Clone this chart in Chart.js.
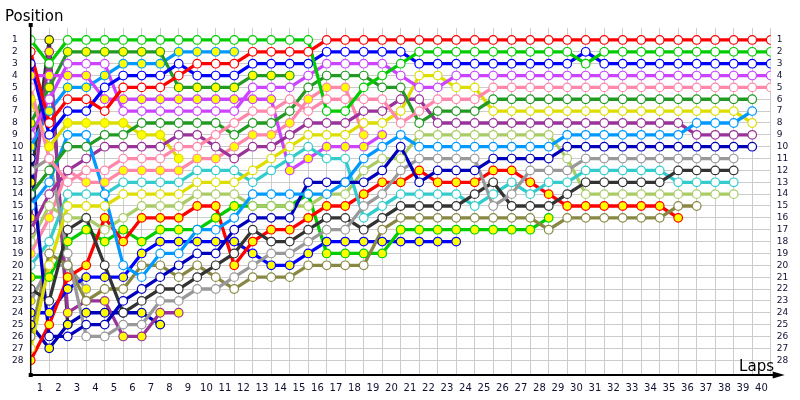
<!DOCTYPE HTML>
<html>
  <head>
    <script src="https://cdn.jsdelivr.net/npm/chart.js"></script>
    <style>
      body { margin: 0; background: #ffffff; }
    </style>
  </head>
  <body>
    <canvas id="lap-chart" width="800" height="400"></canvas>

    <script>
      const N = null;
      // position of each driver at lap 0 (grid) .. lap 40, null = retired
      const red_w = [2,8,6,6,7,5,5,5,4,3, 3,3,2,2,2,2,1,1,1,1, 1,1,1,1,1,1,1,1,1,1, 1,1,1,1,1,1,1,1,1,1, 1];
      const red_y = [28,25,21,20,16,18,16,16,16,15, 15,20,18,17,17,16,15,15,14,13, 13,12,13,13,13,12,12,13,14,15, 15,15,15,15,15,16,N,N,N,N, N];
      const green_w = [1,3,1,1,1,1,1,1,1,1, 1,1,1,1,1,1,7,7,5,4, 3,2,2,2,2,2,2,2,2,2, 3,2,2,2,2,2,2,2,2,2, 2];
      const green_y = [21,21,18,17,18,17,18,17,17,17, 16,15,15,15,15,14,19,19,19,19, 17,17,17,17,17,17,17,17,16,N, N,N,N,N,N,N,N,N,N,N, N];
      const blue_w = [3,9,7,7,5,4,4,4,3,4, 4,4,3,3,3,3,2,2,2,2, 2,3,3,3,3,3,3,3,3,3, 2,3,3,3,3,3,3,3,3,3, 3];
      const blue_y = [24,24,22,21,21,21,19,18,18,18, 18,18,19,20,20,19,18,18,18,18, 18,18,18,18];
      const violet_w = [9,6,3,3,3,7,7,7,7,7, 7,7,5,5,5,4,3,3,3,3, 4,5,5,4,4,4,4,4,4,4, 4,4,4,4,4,4,4,4,4,4, 4];
      const violet_y = [4,4,4,4,6,6,6,6,6,6, 6,6,6,6,12,11,10,10,10,9];
      const pink_w = [5,11,13,12,12,11,11,11,10,10, 9,8,7,7,6,7,6,6,6,6, 8,7,6,6,6,5,5,5,5,5, 5,5,5,5,5,5,5,5,5,5, 5];
      const pink_y = [19,16,12,13,13,12,12,12,12,11, 11,10,9,9,8,6,5,5,9];
      const dgreen_w = [14,12,10,10,9,9,8,8,8,8, 8,9,8,8,7,5,4,4,4,5, 5,8,7,7,7,6,6,6,6,6, 6,6,6,6,6,6,6,6,6,6];
      const dgreen_y = [8,5,2,2,2,2,2,2,5,5, 5,5,4,4,4];
      const yellow_w = [27,20,15,15,15,14,14,14,14,13, 13,13,12,11,10,9,9,9,8,8, 7,4,4,5,5,7,7,7,7,7, 7,7,7,7,7,7,7,7,7,8];
      const yellow_y = [6,10,8,8,8,8,9,9,11];
      const purple_w = [17,14,12,11,10,10,10,10,9,9, 10,11,10,10,9,8,8,8,7,7, 6,6,8,8,8,8,8,8,8,8, 8,8,8,8,8,8,9,9,9,9];
      const purple_y = [16,2,24,23,23,26,26,24,24];
      const lblue_w = [15,13,9,9,14,20,21,19,19,17, 17,16,14,14,14,14,14,13,11,10, 9,10,10,10,10,10,10,10,10,9, 9,9,9,9,9,9,8,8,8,7];
      const lblue_y = [10,7,5,5,4,3,3,3,2,2, 2,2];
      const dblue_w = [11,26,26,25,25,23,22,21,20,19, 19,17,16,16,16,13,13,13,13,12, 10,13,12,12,12,11,11,11,11,10, 10,10,10,10,10,10,10,10,10,10];
      const dblue_y = [25,27,25,24,24,24,24,25];
      const grey_w = [12,11,19,26,26,25,25,23,23,22, 22,21,20,19,19,18,17,17,15,14, 12,11,11,11,11,15,14,12,12,12, 11,11,11,11,11,11,11,11,11];
      const grey_y = [23,20,20,22];
      const black_w = [22,23,17,16,20,24,23,22,22,21, 20,19,17,18,18,17,16,16,17,16, 15,15,15,15,14,13,15,15,15,14, 13,13,13,13,13,12,12,12,12];
      const black_y = [13,1,25];
      const cyan_w = [20,18,14,14,14,13,13,13,13,12, 12,12,13,12,11,10,11,11,16,15, 14,14,14,14,15,14,13,14,13,13, 12,12,12,12,12,13,13,13,13];
      const olive_w = [26,19,20,23,22,22,20,20,21,20, 21,22,21,21,21,20,20,20,20,17, 16,16,16,16,16,16,16,16,17,16, 16,16,16,16,16,15,15];
      const lolive_w = [18,15,16,16,17,16,15,15,15,14, 14,14,15,15,15,15,14,14,12,11, 11,9,9,9,9,9,9,9,9,11, 14,14,14,14,14,14,14,14,14];

      const lap_labels = ['1','2','3','4','5','6','7','8','9','10','11','12','13','14','15','16','17','18','19','20',
                          '21','22','23','24','25','26','27','28','29','30','31','32','33','34','35','36','37','38','39','40'];

      const drivers = [
        [red_w, '#ff0000', '#ffffff'], [green_w, '#00cc00', '#ffffff'], [blue_w, '#0000ff', '#ffffff'],
        [violet_w, '#cc44ff', '#ffffff'], [pink_w, '#ff88aa', '#ffffff'], [dgreen_w, '#229922', '#ffffff'],
        [lblue_w, '#0099ff', '#ffffff'], [yellow_w, '#dddd00', '#ffffff'], [purple_w, '#993399', '#ffffff'],
        [dblue_w, '#0000bb', '#ffffff'], [grey_w, '#999999', '#ffffff'], [black_w, '#333333', '#ffffff'],
        [cyan_w, '#33cccc', '#ffffff'], [lolive_w, '#aacc66', '#ffffff'], [olive_w, '#888844', '#ffffff'],
        [red_y, '#ff0000', '#ffff00'], [green_y, '#00cc00', '#ffff00'], [blue_y, '#0000ff', '#ffff00'],
        [violet_y, '#cc44ff', '#ffff00'], [pink_y, '#ff88aa', '#ffff00'], [dgreen_y, '#229922', '#ffff00'],
        [yellow_y, '#dddd00', '#ffff00'], [purple_y, '#993399', '#ffff00'], [lblue_y, '#0099ff', '#ffff00'],
        [dblue_y, '#0000bb', '#ffff00'], [grey_y, '#999999', '#ffff00'], [black_y, '#333333', '#ffff00']
      ];

      const datasets = [];
      drivers.forEach(function(d) {
        const pts = d[0].map(function(p, i) { return {x: i, y: p}; });
        // lines underneath, markers on top
        datasets.push({data: pts, borderColor: d[1], borderWidth: 3.3, pointRadius: 0, order: 2, spanGaps: false});
        datasets.push({data: pts, showLine: false, pointRadius: 4.3, pointBorderWidth: 1.2,
                       pointBorderColor: d[1], pointBackgroundColor: d[2], order: 1});
      });

      const axes_plugin = {
        id: 'axes',
        afterDraw: function(chart) {
          const ctx = chart.ctx;
          const a = chart.chartArea;
          ctx.save();
          ctx.strokeStyle = '#000000';
          ctx.fillStyle = '#000000';
          ctx.lineWidth = 2;
          ctx.beginPath();
          ctx.moveTo(a.left, a.bottom);
          ctx.lineTo(a.right + 6, a.bottom);
          ctx.stroke();
          ctx.beginPath();
          ctx.moveTo(a.right + 14, a.bottom);
          ctx.lineTo(a.right + 2, a.bottom - 3.5);
          ctx.lineTo(a.right + 2, a.bottom + 3.5);
          ctx.closePath();
          ctx.fill();
          ctx.lineWidth = 1.5;
          ctx.beginPath();
          ctx.moveTo(a.left, a.bottom);
          ctx.lineTo(a.left, 25);
          ctx.stroke();
          ctx.fillRect(a.left - 2, 23, 4, 4);
          ctx.fillRect(a.left - 2, a.bottom - 2, 4, 4);
          ctx.font = '15px "DejaVu Sans"';
          ctx.textBaseline = 'alphabetic';
          ctx.textAlign = 'left';
          ctx.fillText('Position', 5, 21);
          ctx.textAlign = 'right';
          ctx.fillText('Laps', 774, 371);
          ctx.restore();
        }
      };

      const y_ticks = function(scale) {
        scale.ticks = scale.ticks.filter(function(t) { return t.value >= 1 && t.value <= 28; });
      };

      new Chart(document.getElementById('lap-chart'), {
        type: 'line',
        data: {datasets: datasets},
        plugins: [axes_plugin],
        options: {
          responsive: false,
          animation: false,
          devicePixelRatio: 1,
          layout: {padding: {left: 12, top: 28.1, right: 0, bottom: 0}},
          plugins: {legend: {display: false}, tooltip: {enabled: false}},
          scales: {
            x: {
              type: 'linear', min: 0, max: 40,
              grid: {color: '#cccccc', drawTicks: false},
              border: {display: false},
              afterFit: function(s) { s.height = 25; },
              ticks: {
                stepSize: 1, autoSkip: false, maxRotation: 0, padding: 7, labelOffset: 9.25,
                color: '#101030', font: {family: 'DejaVu Sans', size: 10},
                callback: function(v) { return lap_labels[v] || ''; }
              }
            },
            y: {
              type: 'linear', min: 0, max: 29.25, reverse: true, position: 'left',
              grid: {color: '#cccccc', drawTicks: false},
              border: {display: false},
              afterBuildTicks: y_ticks,
              afterFit: function(s) { s.width = 18.7; },
              ticks: {stepSize: 1, autoSkip: false, crossAlign: 'far', color: '#101030',
                      font: {family: 'DejaVu Sans', size: 9}}
            },
            y2: {
              type: 'linear', min: 0, max: 29.25, reverse: true, position: 'right',
              grid: {display: false, drawTicks: false},
              border: {display: false},
              afterBuildTicks: y_ticks,
              afterFit: function(s) { s.width = 29.3; },
              ticks: {stepSize: 1, autoSkip: false, padding: 6, color: '#101030',
                      font: {family: 'DejaVu Sans', size: 9}}
            }
          }
        }
      });
    </script>
  </body>
</html>
